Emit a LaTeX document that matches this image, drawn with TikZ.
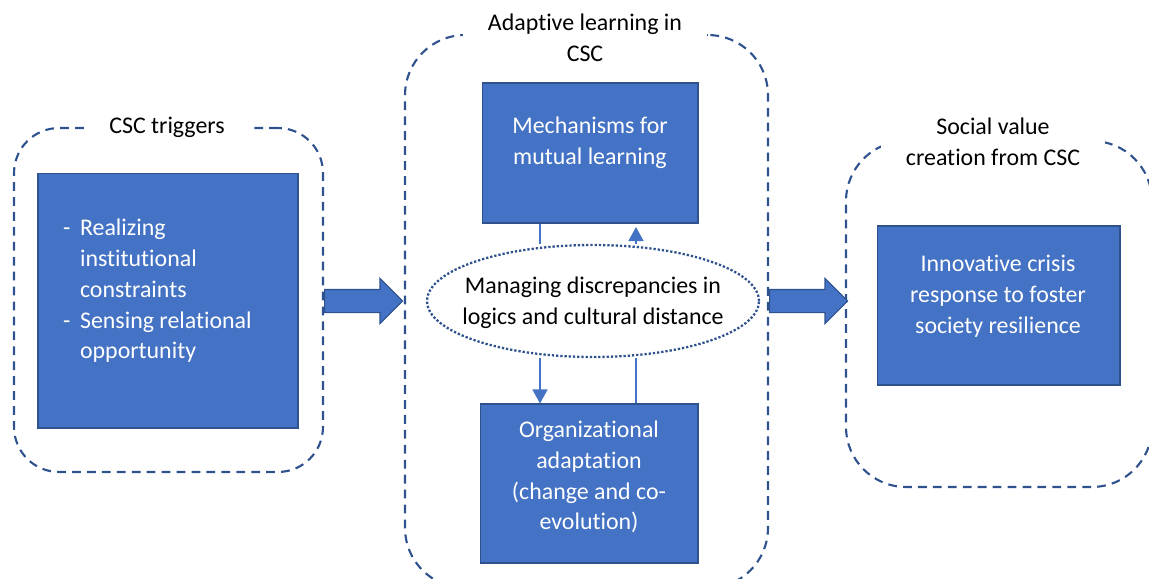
\documentclass[tikz,border=0pt]{standalone}
\usepackage{fontspec}
\setmainfont{Carlito}[Ligatures=NoCommon]
\usetikzlibrary{arrows.meta,shapes.geometric,shapes.arrows}
\definecolor{boxblue}{HTML}{4472C4}
\definecolor{edgeblue}{HTML}{2F528F}
\tikzset{>={Triangle[length=8pt,width=8.5pt]}}
\tikzset{
  stage/.style={draw=edgeblue, line width=1.2pt, dash pattern=on 5pt off 3.5pt, inner sep=0pt},
  title/.style={fill=white, align=center, inner xsep=14pt, inner ysep=2pt},
  panel/.style={draw=edgeblue, fill=boxblue, line width=0.6pt, inner sep=0pt},
  paneltext/.style={text=white, align=center},
  flow/.style={draw=boxblue, line width=1.1pt},
  bigarrow/.style={single arrow, draw=edgeblue, fill=boxblue, line width=0.6pt,
    inner xsep=0pt, inner ysep=0.22cm, minimum height=1.56cm, single arrow head extend=0.22cm}
}

\begin{document}
\begin{tikzpicture}[x=0.02cm, y=-0.02cm, font=\fontsize{13.6}{17.5}\selectfont]
\useasboundingbox (0,0) rectangle (1149,578);
\clip (0,0) rectangle (1149,578);

% dashed stages
\node[stage, rounded corners=0.9cm, minimum width=6.18cm, minimum height=6.88cm] (trig) at (168.5,300) {};
\node[stage, rounded corners=1.2cm, minimum width=7.26cm, minimum height=11.06cm] (learn) at (586.5,311.5) {};
\node[stage, rounded corners=1.2cm, minimum width=6.12cm, minimum height=6.92cm] (value) at (999,314) {};

\node[title] (trigtitle) at (167,127) {CSC triggers};
\node[title] (learntitle) at (585,38) {Adaptive learning in\\CSC};
\node[title] (valuetitle) at (993,142) {Social value\\creation from CSC};

% blue boxes
\node[panel, minimum width=5.2cm, minimum height=5.1cm] (trigbox) at (168,300.5) {};
\node[paneltext, align=left, anchor=west] (trigtxt) at (57,291)
  {\makebox[9.6pt][l]{-}Realizing\\ \hspace*{9.6pt}institutional\\ \hspace*{9.6pt}constraints\\
   \makebox[9.6pt][l]{-}Sensing relational\\ \hspace*{9.6pt}opportunity};

\node[panel, minimum width=4.32cm, minimum height=2.8cm] (mech) at (590,153) {};
\node[paneltext] (mechtxt) at (590,143) {Mechanisms for\\mutual learning};

\node[panel, minimum width=4.36cm, minimum height=3.18cm] (org) at (589,483.5) {};
\node[paneltext] (orgtxt) at (589,477) {Organizational\\adaptation\\(change and co-\\evolution)};

\node[panel, minimum width=4.86cm, minimum height=3.18cm] (resp) at (998.5,305.5) {};
\node[paneltext] (resptxt) at (998,296) {Innovative crisis\\response to foster\\society resilience};

% discrepancies
\node[ellipse, draw=edgeblue, line width=1.3pt, dash pattern=on 1.3pt off 1.1pt,
  minimum width=6.64cm, minimum height=2.24cm, inner sep=0pt] (ell) at (593,301) {};
\node[align=center] (elltxt) at (593,303) {Managing discrepancies in\\logics and cultural distance};

\coordinate (lane1) at (540,0);
\coordinate (lane2) at (636,0);
\draw[flow] (mech.south -| lane1) -- (ell.north -| lane1);
\draw[flow, ->, shorten >=2pt] (ell.north -| lane2) -- (mech.south -| lane2);
\draw[flow, ->] (ell.south -| lane1) -- (org.north -| lane1);
\draw[flow] (org.north -| lane2) -- (ell.south -| lane2);

% block arrows
\node[bigarrow, anchor=tail] (push1) at (trig.east |- ell) {};
\node[bigarrow, anchor=tail] (push2) at (learn.east |- ell) {};
\end{tikzpicture}
\end{document}
